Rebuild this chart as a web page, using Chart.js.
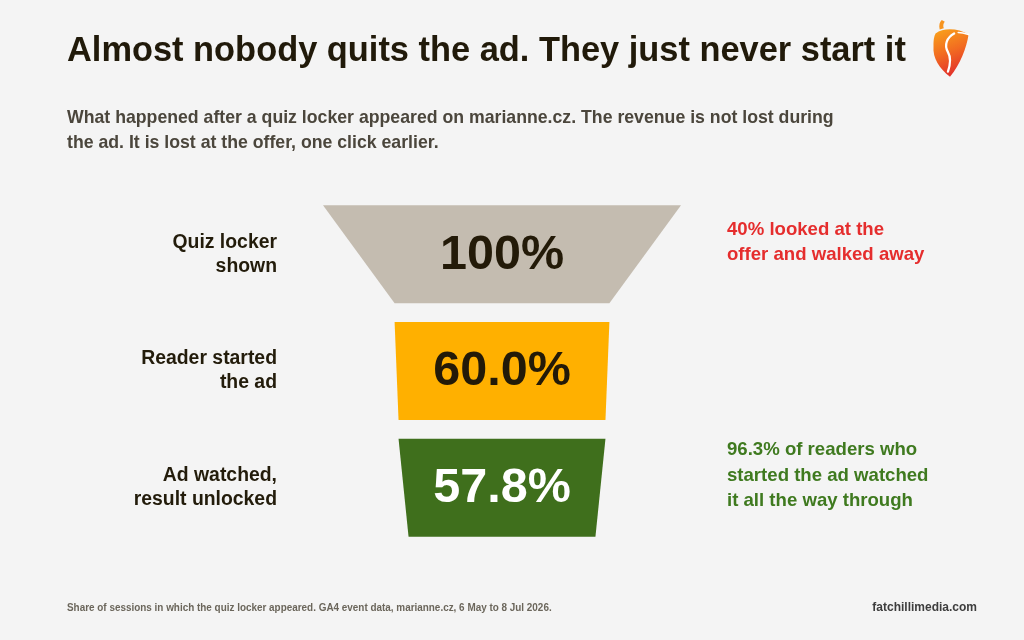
<!DOCTYPE html>
<html>
<head>
<meta charset="utf-8">
<script src="https://cdn.jsdelivr.net/npm/chart.js@4/dist/chart.umd.min.js"></script>
<style>
  html, body { margin: 0; padding: 0; }
  body { width: 1024px; height: 640px; overflow: hidden; background: #f4f4f4; position: relative; font-family: "Liberation Sans", Arial, sans-serif; }
  #wrap { position: absolute; left: 0; top: 0; width: 1024px; height: 640px; }
  #title { position: absolute; left: 67px; top: 32px; font-size: 34.4px; line-height: 34px; font-weight: 700; color: #211a0a; white-space: nowrap; }
  #subtitle { position: absolute; left: 67px; top: 105px; font-size: 17.7px; line-height: 25px; font-weight: 700; color: #4b463c; white-space: nowrap; }
  #source { position: absolute; left: 67px; top: 600px; font-size: 11.4px; line-height: 14px; font-weight: 700; color: #6b665b; white-space: nowrap; transform: scaleX(0.87); transform-origin: 0 0; }
  #brand { position: absolute; right: 47px; top: 600px; font-size: 12px; line-height: 14px; font-weight: 700; color: #3d3d3d; white-space: nowrap; }
  #logo { position: absolute; left: 927px; top: 17px; width: 46px; height: 66px; }
</style>
</head>
<body>
<div id="wrap"><canvas id="c" width="1024" height="640"></canvas></div>
<div id="title">Almost nobody quits the ad. They just never start it</div>
<div id="subtitle">What happened after a quiz locker appeared on marianne.cz. The revenue is not lost during<br>the ad. It is lost at the offer, one click earlier.</div>
<div id="source">Share of sessions in which the quiz locker appeared. GA4 event data, marianne.cz, 6 May to 8 Jul 2026.</div>
<div id="brand">fatchillimedia.com</div>
<svg id="logo" viewBox="0 0 44 64">
  <defs>
    <linearGradient id="g" x1="0" y1="0" x2="0.3" y2="1">
      <stop offset="0" stop-color="#f9a51b"/>
      <stop offset="0.55" stop-color="#f26b21"/>
      <stop offset="1" stop-color="#e3342a"/>
    </linearGradient>
  </defs>
  <path d="M12 12 C 11 8, 12 5, 14 3 L 17 4.5 C 15.5 6, 15 8.5, 16 11 Z" fill="#f7941d"/>
  <path d="M8 16 C 16 10, 30 11, 40 17 C 38 30, 32 46, 22 58 C 12 50, 5 40, 6 28 C 6 22, 6.5 19, 8 16 Z" fill="url(#g)"/>
  <path d="M26 16 C 19 20, 16 27, 20 34 C 23 39, 22 47, 20 53" fill="none" stroke="#ffffff" stroke-width="2.2" stroke-linecap="round"/>
  <path d="M30 15 C 34 15, 37 16, 40 17" fill="none" stroke="#ffffff" stroke-width="1.6" stroke-linecap="round"/>
</svg>
<script>
// ---- data ----
const stages = [["Quiz locker", "shown"], ["Reader started", "the ad"], ["Ad watched,", "result unlocked"]];
const topShare = [100, 60.0, 57.8];
const bottomShare = [60.0, 57.8, 52.2];
const valueLabels = ["100%", "60.0%", "57.8%"];
const notes = [["40% looked at the", "offer and walked away"], [], ["96.3% of readers who", "started the ad watched", "it all the way through"]];

// ---- styles ----
const fillColors = ["#c4bcb0", "#ffb000", "#3f6f1c"];
const valueColors = ["#231a08", "#231a08", "#ffffff"];
const noteColors = ["#e52d2d", "#e52d2d", "#3f7a1f"];
const halfH = 0.42;
const FONT = "'Liberation Sans', Arial, sans-serif";

const datasets = stages.map((s, i) => ({
  label: s.join(" "),
  data: [
    { x: -topShare[i] / 2, y: i - halfH },
    { x: -bottomShare[i] / 2, y: i + halfH },
    { x: bottomShare[i] / 2, y: i + halfH },
    { x: topShare[i] / 2, y: i - halfH }
  ],
  backgroundColor: fillColors[i],
  borderColor: fillColors[i],
  borderWidth: 0,
  pointRadius: 0,
  pointHoverRadius: 0,
  tension: 0,
  fill: "shape"
}));

const valueLabelPlugin = {
  id: "valueLabels",
  afterDatasetsDraw(chart) {
    const { ctx, scales } = chart;
    ctx.save();
    ctx.font = "bold 48.5px " + FONT;
    ctx.textAlign = "center";
    ctx.textBaseline = "middle";
    valueLabels.forEach((t, i) => {
      ctx.fillStyle = valueColors[i];
      ctx.fillText(t, scales.x.getPixelForValue(0), scales.y.getPixelForValue(i) + 1);
    });
    ctx.restore();
  }
};

const stageTicks = (axis) => { axis.ticks = stages.map((_, i) => ({ value: i })); };

new Chart(document.getElementById("c"), {
  type: "line",
  data: { datasets },
  options: {
    responsive: false,
    animation: false,
    events: [],
    layout: { padding: { top: 196, bottom: 94, left: 0, right: 0 } },
    plugins: { legend: { display: false }, tooltip: { enabled: false }, title: { display: false } },
    scales: {
      x: { type: "linear", min: -50, max: 50, display: false },
      y: {
        type: "linear", position: "left", min: -0.5, max: 2.5, reverse: true,
        grid: { display: false, drawTicks: false }, border: { display: false },
        afterBuildTicks: stageTicks,
        afterFit: (axis) => { axis.width = 323; },
        ticks: {
          padding: 46,
          color: "#231c0b",
          font: { family: FONT, size: 19.4, weight: "bold", lineHeight: 1.25 },
          callback: (v, i) => stages[i]
        }
      },
      y2: {
        type: "linear", position: "right", min: -0.5, max: 2.5, reverse: true,
        grid: { display: false, drawTicks: false }, border: { display: false },
        afterBuildTicks: stageTicks,
        afterFit: (axis) => { axis.width = 343; },
        ticks: {
          padding: 46,
          labelOffset: -12,
          color: (ctx) => noteColors[ctx.index],
          font: { family: FONT, size: 18.6, weight: "bold", lineHeight: 1.38 },
          callback: (v, i) => notes[i]
        }
      }
    }
  },
  plugins: [valueLabelPlugin]
});
</script>
</body>
</html>
